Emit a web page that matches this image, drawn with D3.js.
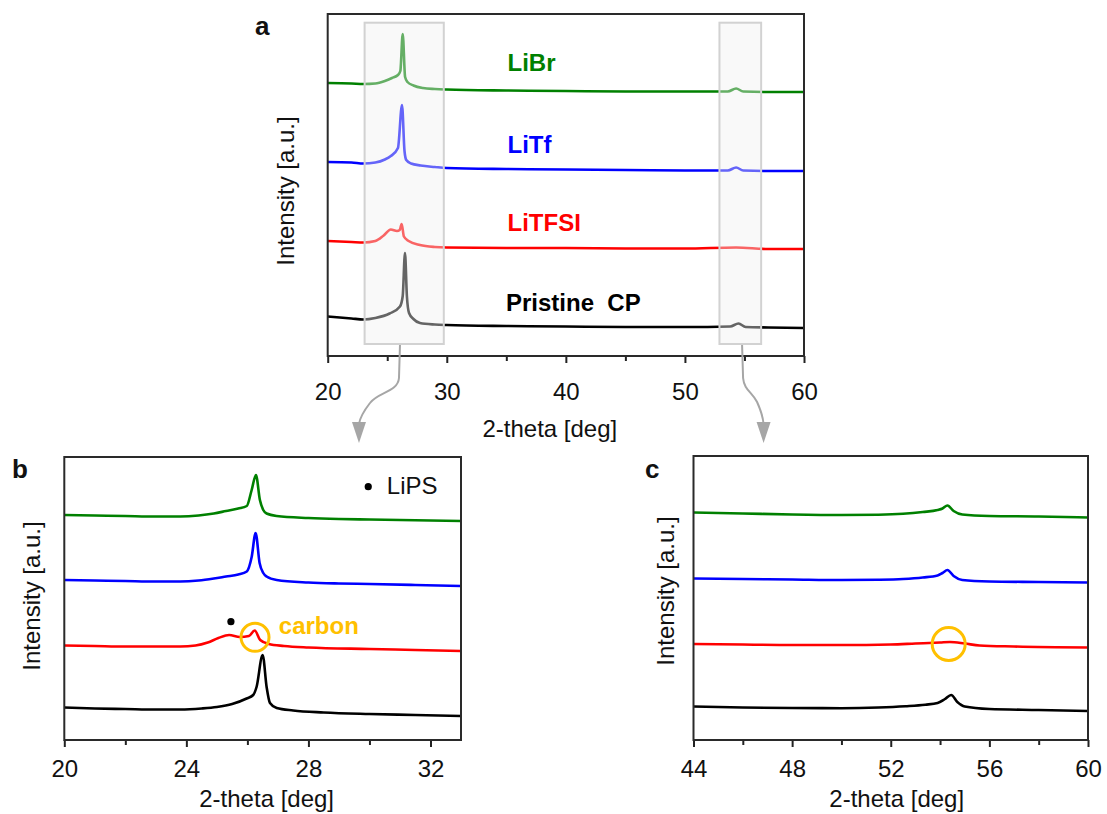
<!DOCTYPE html>
<html>
<head>
<meta charset="utf-8">
<script src="https://cdn.jsdelivr.net/npm/d3@7"></script>
<style>
  body { margin: 0; background: #fff; }
  svg { font-family: Arial, 'Liberation Sans', sans-serif; }
</style>
</head>
<body>
<svg id="fig" width="1107" height="814"></svg>
<script>
// [2-theta (deg), intensity (a.u., offset for stacking)]
const aLiBr = [[20, 273], [22, 272.5], [23, 272], [24, 272.5], [24.8, 275], [25.4, 278], [25.9, 281], [26.1, 285], [26.3, 322], [26.5, 279], [26.7, 274], [27.2, 270.5], [28, 268], [29, 267], [30, 266.5], [35, 265.5], [40, 265], [45, 264.5], [50, 264.5], [53.6, 264.5], [54.3, 267.5], [54.9, 264.5], [57, 264], [60, 264]];
const aLiTf = [[20, 194], [22, 193.5], [23, 192.5], [24, 193.5], [24.8, 196.5], [25.3, 200], [25.9, 208], [26.24, 251], [26.45, 205], [26.6, 196], [27, 192.5], [27.8, 190.5], [29, 189], [30, 188], [35, 187], [40, 186.5], [45, 186], [50, 185.5], [53.6, 185.5], [54.3, 188.5], [54.9, 185.5], [57, 185], [60, 185]];
const aLiTFSI = [[20, 115], [22, 114], [23, 113.5], [24, 115], [24.7, 120.5], [25.3, 126.5], [25.82, 125], [26.05, 126], [26.21, 132], [26.4, 119.5], [26.8, 115], [27.75, 111], [29, 109], [30, 108.5], [35, 108], [40, 108], [45, 107.5], [50, 107.5], [54.3, 108.5], [57, 107], [60, 107]];
const aPristine = [[20, 39.5], [22, 37.5], [23, 36.5], [24, 38], [25.2, 42.5], [26.07, 49.5], [26.3, 60], [26.49, 103], [26.65, 60], [26.83, 43], [27.2, 37], [27.75, 33], [29, 31.5], [30, 31], [35, 30], [40, 29.5], [45, 29], [50, 29], [53.8, 29.5], [54.5, 32.5], [55.1, 29], [57, 28.5], [60, 28]];

const bLiBr = [[20, 225], [21, 224.5], [22, 224], [23, 223.5], [23.8, 223.5], [24.4, 224.5], [24.9, 226.5], [25.3, 229], [25.7, 231.5], [25.98, 234], [26.14, 250], [26.28, 265], [26.41, 240], [26.52, 230], [26.63, 226.5], [26.96, 224], [28, 222], [29, 221], [30, 220.5], [31, 220], [32, 219.5], [33, 219]];
const bLiTf = [[20, 160], [21, 159.5], [22, 159], [23, 158.5], [23.8, 158.5], [24.4, 159.5], [24.9, 161.5], [25.3, 163.5], [25.7, 165.5], [25.98, 168.5], [26.14, 183], [26.27, 207], [26.4, 177], [26.52, 167], [26.63, 163.5], [26.96, 160], [28, 157.5], [29, 156.5], [30, 156], [31.5, 155], [33, 154]];
const bLiTFSI = [[20, 94.5], [21, 94], [22, 93.5], [23, 93.5], [23.8, 93.5], [24.3, 94.5], [24.7, 97.5], [25.05, 102], [25.4, 105], [25.75, 103], [26.05, 104], [26.24, 109.5], [26.42, 100], [26.7, 96], [27.2, 94], [28, 92.5], [30, 91], [31.5, 90], [33, 89]];
const bPristine = [[20, 32.5], [21, 31.5], [22, 31], [23, 30.5], [23.8, 30.5], [24.5, 31.5], [25.0, 33], [25.5, 36], [25.975, 41.5], [26.19, 45], [26.3, 53], [26.5, 85], [26.63, 53], [26.74, 37], [26.96, 32], [27.5, 29.5], [28.5, 27.5], [30, 26], [31.5, 25], [33, 24]];

const cLiBr = [[44, 227.5], [46, 226.5], [48, 225.5], [50, 225], [51.5, 225.3], [52.5, 226.2], [53.3, 228], [53.9, 230], [54.1, 231.5], [54.3, 234.5], [54.55, 229], [54.9, 225.5], [56, 224], [58, 223.5], [60, 222.5]];
const cLiTf = [[44, 161.5], [46, 161], [48, 160.5], [50, 160], [51.5, 160.3], [52.5, 161], [53.3, 162.5], [53.9, 164.5], [54.1, 167], [54.3, 170], [54.55, 164], [54.9, 160], [56, 158.5], [58, 158], [60, 157.5]];
const cLiTFSI = [[44, 96], [46, 95.5], [48, 95], [50, 95], [52, 95.5], [53, 96.5], [54, 97.5], [54.4, 98], [55, 96.5], [55.6, 94.5], [57, 93.5], [60, 92.5]];
const cPristine = [[44, 33.5], [46, 32.5], [48, 32], [50, 31.8], [51.5, 32.5], [52.6, 33.8], [53.4, 35.3], [53.9, 37], [54.2, 41], [54.45, 45], [54.7, 38], [55.0, 33.5], [56, 31], [58, 30], [60, 29]];

const sampleNames = ['LiBr', 'LiTf', 'LiTFSI', 'Pristine CP'];
const sampleColors = ['#008000', '#0000ff', '#ff0000', '#000000'];

const aMajor = [20, 30, 40, 50, 60];
const aMinor = [25, 35, 45, 55];
const bMajor = [20, 24, 28, 32];
const bMinor = [22, 26, 30];
const cMajor = [44, 48, 52, 56, 60];
const cMinor = [46, 50, 54, 58];

// zoomed windows marked in panel a
const zoomWindows = [[23.1, 29.75], [52.9, 56.4]];

const svg = d3.select('#fig');
svg.append('rect').attr('width', 1107).attr('height', 814).attr('fill', '#fff');

const drawPanel = (cfg) => {
  const x = d3.scaleLinear().domain(cfg.xDomain).range([cfg.left, cfg.right]);
  const y = d3.scaleLinear().domain(cfg.yDomain).range([cfg.bottom, cfg.top]);
  const g = svg.append('g');
  const line = d3.line()
    .x(d => x(d[0]))
    .y(d => y(d[1]))
    .curve(d3.curveMonotoneX);

  cfg.series.forEach((s, i) => {
    g.append('path')
      .attr('d', line(s))
      .attr('fill', 'none')
      .attr('stroke', sampleColors[i])
      .attr('stroke-width', 2.6)
      .attr('stroke-linejoin', 'round');
  });

  const minorAxis = g.append('g')
    .attr('transform', `translate(0,${cfg.bottom})`)
    .call(d3.axisBottom(x).tickValues(cfg.minor).tickSize(5).tickFormat(''));
  const majorAxis = g.append('g')
    .attr('transform', `translate(0,${cfg.bottom})`)
    .call(d3.axisBottom(x).tickValues(cfg.major).tickSize(7));
  [minorAxis, majorAxis].forEach(ax => {
    ax.select('.domain').remove();
    ax.selectAll('line').attr('stroke', '#222').attr('stroke-width', 2);
  });
  majorAxis.selectAll('text')
    .attr('dy', null)
    .attr('y', cfg.labelGap)
    .attr('fill', '#111')
    .attr('font-size', 24);

  g.append('rect')
    .attr('x', cfg.left)
    .attr('y', cfg.top)
    .attr('width', cfg.right - cfg.left)
    .attr('height', cfg.bottom - cfg.top)
    .attr('fill', 'none')
    .attr('stroke', '#2a2a2a')
    .attr('stroke-width', 2);

  g.append('text')
    .attr('x', (cfg.left + cfg.right) / 2 + cfg.titleShift)
    .attr('y', cfg.bottom + cfg.titleGap)
    .attr('text-anchor', 'middle')
    .attr('font-size', 24)
    .attr('fill', '#111')
    .text('2-theta [deg]');

  g.append('text')
    .attr('transform', `translate(${cfg.yTitleX},${cfg.yTitleY}) rotate(-90)`)
    .attr('text-anchor', 'middle')
    .attr('font-size', 24)
    .attr('fill', '#111')
    .text('Intensity [a.u.]');

  g.append('text')
    .attr('x', cfg.letterX)
    .attr('y', cfg.letterY)
    .attr('font-size', 26)
    .attr('font-weight', 'bold')
    .attr('fill', '#111')
    .text(cfg.letter);

  return { x, y, g };
};

const A = drawPanel({
  left: 327.7, right: 804, top: 14, bottom: 356,
  xDomain: [20, 60], yDomain: [0, 342],
  series: [aLiBr, aLiTf, aLiTFSI, aPristine],
  major: aMajor, minor: aMinor,
  labelGap: 44, titleGap: 81, titleShift: -16,
  yTitleX: 294, yTitleY: 191,
  letter: 'a', letterX: 255, letterY: 35,
});

const B = drawPanel({
  left: 64.3, right: 461, top: 457, bottom: 740,
  xDomain: [20, 33], yDomain: [0, 283],
  series: [bLiBr, bLiTf, bLiTFSI, bPristine],
  major: bMajor, minor: bMinor,
  labelGap: 37, titleGap: 67, titleShift: 4,
  yTitleX: 40, yTitleY: 596,
  letter: 'b', letterX: 12, letterY: 478,
});

const C = drawPanel({
  left: 693.5, right: 1088, top: 456, bottom: 740,
  xDomain: [44, 60], yDomain: [0, 284],
  series: [cLiBr, cLiTf, cLiTFSI, cPristine],
  major: cMajor, minor: cMinor,
  labelGap: 37, titleGap: 67, titleShift: 6,
  yTitleX: 674, yTitleY: 591,
  letter: 'c', letterX: 645, letterY: 478,
});

// shaded windows over panel a
A.g.selectAll('rect.window')
  .data(zoomWindows)
  .enter()
  .append('rect')
  .classed('window', true)
  .attr('x', d => A.x(d[0]))
  .attr('width', d => A.x(d[1]) - A.x(d[0]))
  .attr('y', A.y(333.3))
  .attr('height', A.y(12) - A.y(333.3))
  .attr('fill', '#f0f0f0')
  .attr('fill-opacity', 0.42)
  .attr('stroke', '#d2d2d2')
  .attr('stroke-width', 2);

// sample labels in panel a
const labelLevels = [62, 144, 222, 302];
sampleNames.forEach((name, i) => {
  A.g.append('text')
    .attr('x', A.x(35.1) + (i === 3 ? -1.5 : 0))
    .attr('y', labelLevels[i] + 8.5)
    .attr('font-size', 24)
    .attr('font-weight', 'bold')
    .attr('fill', sampleColors[i])
    .attr('xml:space', 'preserve')
    .text(name === 'Pristine CP' ? 'Pristine  CP' : name);
});

// curved arrows from windows to zoom panels
const arrowGray = '#a6a6a6';
const drawArrow = (pathD, tipX, tipY) => {
  svg.append('path')
    .attr('d', pathD)
    .attr('fill', 'none')
    .attr('stroke', arrowGray)
    .attr('stroke-width', 2);
  svg.append('path')
    .attr('d', `M${tipX},${tipY} L${tipX - 7},${tipY - 21} L${tipX + 7},${tipY - 21} Z`)
    .attr('fill', arrowGray);
};
const x0 = A.x(26.07);
drawArrow(`M${x0},345 L${x0 - 1},378 C${x0 - 2},392 ${x0 - 22},392 ${x0 - 30},403 C${x0 - 37},412 ${x0 - 40},418 ${x0 - 41},424`, x0 - 41, 443);
const x1 = A.x(54.8);
drawArrow(`M${x1},345 L${x1 + 1},378 C${x1 + 2},390 ${x1 + 10},392 ${x1 + 15},402 C${x1 + 19},411 ${x1 + 21},417 ${x1 + 21.5},424`, x1 + 21.5, 443);

// panel b annotations
const orange = '#ffc000';
B.g.append('circle').attr('cx', B.x(29.96)).attr('cy', B.y(253.3)).attr('r', 3.6).attr('fill', '#000');
B.g.append('text')
  .attr('x', B.x(30.57)).attr('y', 494)
  .attr('font-size', 24).attr('fill', '#111')
  .text('LiPS');
B.g.append('circle').attr('cx', B.x(25.46)).attr('cy', B.y(118.3)).attr('r', 3.6).attr('fill', '#000');
B.g.append('circle')
  .attr('cx', B.x(26.25)).attr('cy', B.y(102.7)).attr('r', 14)
  .attr('fill', 'none').attr('stroke', orange).attr('stroke-width', 3);
B.g.append('text')
  .attr('x', B.x(27.03)).attr('y', 634)
  .attr('font-size', 24).attr('font-weight', 'bold').attr('fill', orange)
  .text('carbon');

// panel c annotation
C.g.append('circle')
  .attr('cx', C.x(54.35)).attr('cy', C.y(96)).attr('r', 16.5)
  .attr('fill', 'none').attr('stroke', orange).attr('stroke-width', 3);
</script>
</body>
</html>
